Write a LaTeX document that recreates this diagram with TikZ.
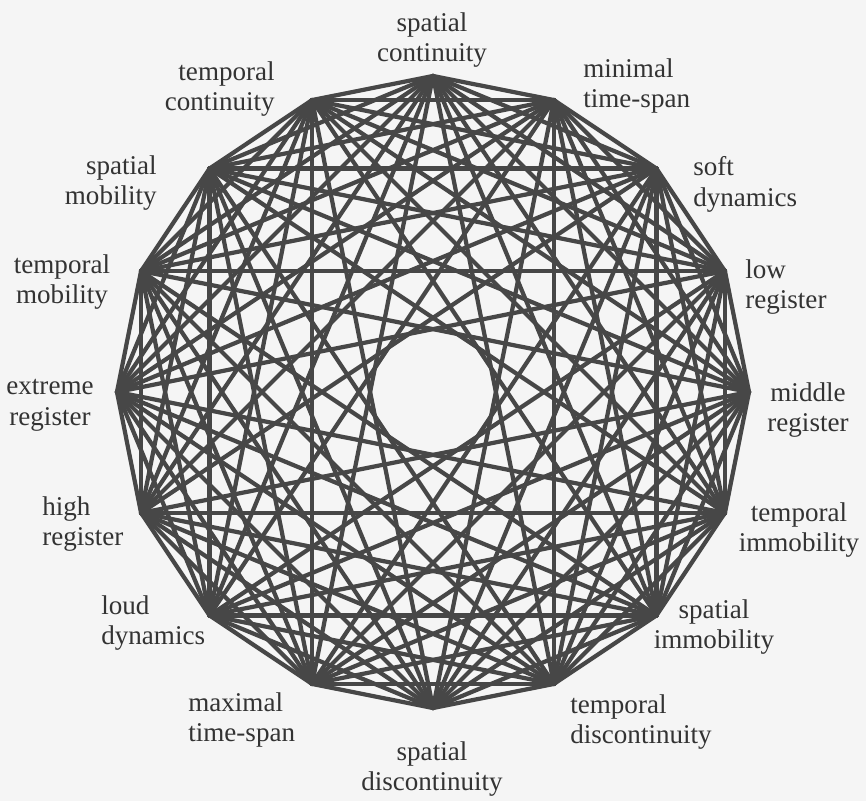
\documentclass[tikz,border=0pt]{standalone}
\usepackage{fontspec}
\setmainfont{Liberation Serif}
\tikzset{
	chord/.style={draw=black!72, line width=2.4pt, line cap=round, line join=round},
	lbl/.style={inner sep=0pt, text=black!80, font=\rmfamily\fontsize{15.4}{17.6}\selectfont}
}
\begin{document}
\begin{tikzpicture}
	
	% Page
	\useasboundingbox[fill=black!4] (-8.66,-8.18) rectangle (8.66,7.84);
	
	% Corners of the 16-gon
	\foreach \i in {0,...,15}
		\coordinate (p\i) at ({90-22.5*\i}:6.32);
	
	% Chords, all but the diameters
	\foreach \i in {0,...,15}
		\foreach \k in {1,...,7}{
			\pgfmathtruncatemacro{\j}{mod(\i+\k,16)}
			\draw[chord] (p\i) -- (p\j);
		}
	
	% Labels
	\node[lbl, align=center] (spcont) at (-0.02,7.04) {spatial\\continuity};
	\node[lbl, align=left, anchor=west] (mintime) at (3.00,6.12) {minimal\\time-span};
	\node[lbl, align=left, anchor=west] (softdyn) at (5.20,4.16) {soft\\dynamics};
	\node[lbl, align=left, anchor=west] (lowreg) at (6.24,2.10) {low\\register};
	\node[lbl, align=center] (midreg) at (7.50,-0.36) {middle\\register};
	\node[lbl, align=center] (tpimmob) at (7.32,-2.76) {temporal\\immobility};
	\node[lbl, align=center] (spimmob) at (5.62,-4.70) {spatial\\immobility};
	\node[lbl, align=left, anchor=west] (tpdisc) at (2.74,-6.60) {temporal\\discontinuity};
	\node[lbl, align=center] (spdisc) at (-0.02,-7.54) {spatial\\discontinuity};
	\node[lbl, align=left, anchor=west] (maxtime) at (-4.90,-6.56) {maximal\\time-span};
	\node[lbl, align=left, anchor=west] (louddyn) at (-6.64,-4.62) {loud\\dynamics};
	\node[lbl, align=left, anchor=west] (highreg) at (-7.82,-2.64) {high\\register};
	\node[lbl, align=center] (extreg) at (-7.66,-0.26) {extreme\\register};
	\node[lbl, align=center] (tpmob) at (-7.42,2.20) {temporal\\mobility};
	\node[lbl, align=right, anchor=east] (spmob) at (-5.52,4.18) {spatial\\mobility};
	\node[lbl, align=right, anchor=east] (tpcont) at (-3.16,6.06) {temporal\\continuity};
	
\end{tikzpicture}
\end{document}
